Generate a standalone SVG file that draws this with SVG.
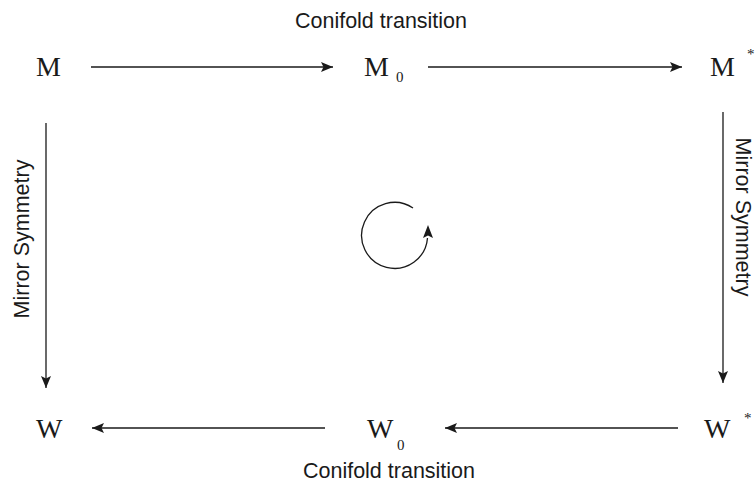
<svg xmlns="http://www.w3.org/2000/svg" width="756" height="483" viewBox="0 0 756 483">
<style>
.n{font-family:"Liberation Serif","Times New Roman",serif;font-size:28px;fill:#1a1a1a}
.s{font-family:"Liberation Serif","Times New Roman",serif;font-size:15px;fill:#1a1a1a}
.l{font-family:"Liberation Sans",Arial,sans-serif;font-size:21.5px;fill:#1a1a1a}
.c{stroke:#1a1a1a;stroke-width:1.3;fill:none}
</style>
<defs>
<marker id="ah" markerWidth="12" markerHeight="10" refX="12" refY="5" orient="auto" markerUnits="userSpaceOnUse">
<path d="M0,0 L12,5 L0,10 L2.5,5 Z" fill="#1a1a1a"/>
</marker>
</defs>
<rect width="756" height="483" fill="#fff"/>
<g id="connectors">
<line class="c" x1="91" y1="67" x2="333" y2="67" marker-end="url(#ah)"/>
<line class="c" x1="428" y1="67" x2="682" y2="67" marker-end="url(#ah)"/>
<line class="c" x1="46" y1="123" x2="46" y2="388" marker-end="url(#ah)"/>
<line class="c" x1="723" y1="112" x2="723" y2="383" marker-end="url(#ah)"/>
<line class="c" x1="325" y1="428" x2="92" y2="428" marker-end="url(#ah)"/>
<line class="c" x1="678" y1="428" x2="445" y2="428" marker-end="url(#ah)"/>
<text class="l" x="381" y="28" text-anchor="middle">Conifold transition</text>
<text class="l" x="389" y="478" text-anchor="middle">Conifold transition</text>
<text class="l" transform="translate(29,239) rotate(-90)" text-anchor="middle">Mirror Symmetry</text>
<text class="l" transform="translate(736,217) rotate(90)" text-anchor="middle">Mirror Symmetry</text>
</g>
<g id="cycle">
<path class="c" d="M413,208 A33,33 0 1 0 427.5,238"/>
<path d="M428,225 L433,238 L428,235.5 L423,238 Z" fill="#1a1a1a"/>
</g>
<g id="M"><text class="n" x="36" y="76">M</text></g>
<g id="M0"><text class="n" x="364" y="76">M</text><text class="s" x="396" y="82">0</text></g>
<g id="Mstar"><text class="n" x="710" y="76">M</text><text class="s" x="747" y="59">*</text></g>
<g id="W"><text class="n" x="36" y="438">W</text></g>
<g id="W0"><text class="n" x="367" y="438">W</text><text class="s" x="397" y="450">0</text></g>
<g id="Wstar"><text class="n" x="704" y="438">W</text><text class="s" x="744" y="423">*</text></g>
</svg>
